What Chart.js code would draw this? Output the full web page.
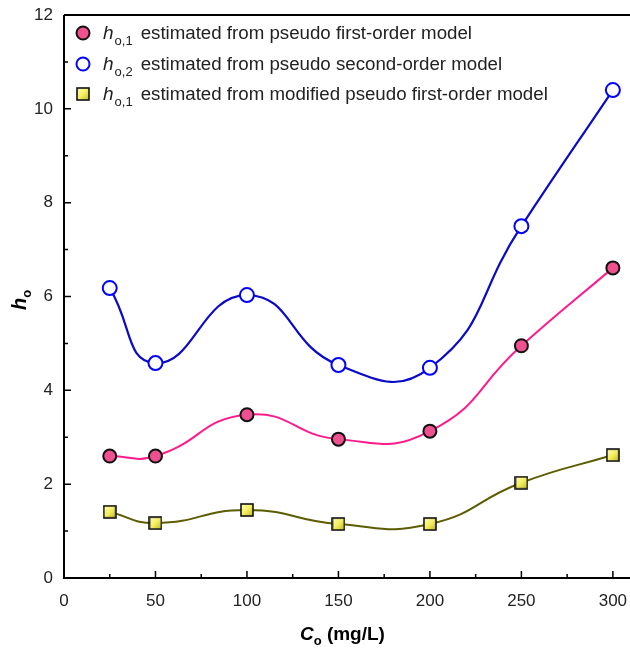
<!DOCTYPE html>
<html>
<head>
<meta charset="utf-8">
<script src="https://cdn.jsdelivr.net/npm/chart.js@4.4.1/dist/chart.umd.min.js"></script>
<style>
  html, body { margin: 0; padding: 0; background: #fff; overflow: hidden; }
  #wrap { position: relative; width: 642px; height: 658px; }
</style>
</head>
<body>
<div id="wrap"><canvas id="c"></canvas></div>
<script>
// ---- data ----
const concentrations = [25, 50, 100, 150, 200, 250, 300];
const hFirstOrder = [2.60, 2.60, 3.48, 2.96, 3.13, 4.95, 6.61];
const hSecondOrder = [6.18, 4.58, 6.03, 4.54, 4.48, 7.50, 10.40];
const hModifiedFirst = [1.41, 1.17, 1.45, 1.15, 1.15, 2.03, 2.62];
const xTickValues = [0, 50, 100, 150, 200, 250, 300];
const yTickValues = [0, 2, 4, 6, 8, 10, 12];
const legendLabels = [
  { sub: 'o,1', text: 'estimated from pseudo first-order model' },
  { sub: 'o,2', text: 'estimated from pseudo second-order model' },
  { sub: 'o,1', text: 'estimated from modified pseudo first-order model' }
];

const pts = arr => concentrations.map((x, i) => ({ x: x, y: arr[i] }));

const FONT = '"Liberation Sans", Arial, sans-serif';

// yellow gradient square marker
function makeSquare() {
  const s = 14;
  const c = document.createElement('canvas');
  c.width = s; c.height = s;
  const g = c.getContext('2d');
  const grd = g.createLinearGradient(0, 0, s, s);
  grd.addColorStop(0, '#ffffd0');
  grd.addColorStop(0.5, '#f5f060');
  grd.addColorStop(1, '#b8b020');
  g.fillStyle = grd;
  g.fillRect(1, 1, s - 2, s - 2);
  g.strokeStyle = '#111';
  g.lineWidth = 1.6;
  g.strokeRect(1, 1, s - 2, s - 2);
  return c;
}
const squareImg = makeSquare();

const framePlugin = {
  id: 'framePlugin',
  afterDraw(chart) {
    const ctx = chart.ctx;
    const a = chart.chartArea;
    const xs = chart.scales.x, ys = chart.scales.y;
    ctx.save();
    ctx.strokeStyle = '#000';
    ctx.lineWidth = 2;
    ctx.beginPath();
    ctx.moveTo(a.left, a.top);
    ctx.lineTo(a.right, a.top);
    ctx.moveTo(a.left, a.top);
    ctx.lineTo(a.left, a.bottom);
    ctx.lineTo(a.right, a.bottom);
    ctx.lineTo(a.right, a.top);
    ctx.stroke();
    // ticks (inward)
    ctx.lineWidth = 1.5;
    ctx.beginPath();
    for (let v = 25; v <= 300; v += 25) {
      const px = xs.getPixelForValue(v);
      const len = (v % 50 === 0) ? 7 : 4;
      ctx.moveTo(px, a.bottom);
      ctx.lineTo(px, a.bottom - len);
    }
    for (let v = 1; v < 12; v += 1) {
      const py = ys.getPixelForValue(v);
      const len = (v % 2 === 0) ? 7 : 4;
      ctx.moveTo(a.left, py);
      ctx.lineTo(a.left + len, py);
    }
    ctx.stroke();

    // axis titles
    ctx.fillStyle = '#000';
    ctx.textBaseline = 'alphabetic';
    {
      const y = 640;
      ctx.font = 'bold italic 19px ' + FONT;
      const wC = ctx.measureText('C').width;
      ctx.font = 'bold 13px ' + FONT;
      const wo = ctx.measureText('o').width;
      ctx.font = 'bold 19px ' + FONT;
      const wr = ctx.measureText(' (mg/L)').width;
      let x = (a.left + xs.getPixelForValue(300)) / 2 + 4 - (wC + wo + wr) / 2;
      ctx.font = 'bold italic 19px ' + FONT;
      ctx.fillText('C', x, y); x += wC;
      ctx.font = 'bold 13px ' + FONT;
      ctx.fillText('o', x, y + 5); x += wo;
      ctx.font = 'bold 19px ' + FONT;
      ctx.fillText(' (mg/L)', x, y);
    }
    {
      ctx.save();
      ctx.translate(26, 300);
      ctx.rotate(-Math.PI / 2);
      ctx.font = 'bold italic 20px ' + FONT;
      const wh = ctx.measureText('h').width;
      ctx.font = 'bold 13px ' + FONT;
      const wo = ctx.measureText('o').width;
      let x = -(wh + wo) / 2;
      ctx.font = 'bold italic 20px ' + FONT;
      ctx.fillText('h', x, 0); x += wh;
      ctx.font = 'bold 13px ' + FONT;
      ctx.fillText('o', x, 5);
      ctx.restore();
    }

    // legend
    const rows = [33, 64, 94];
    const mx = 83;
    rows.forEach((ry, i) => {
      ctx.save();
      if (i === 0) {
        ctx.beginPath();
        ctx.arc(mx, ry, 6.5, 0, Math.PI * 2);
        ctx.fillStyle = '#f0508f';
        ctx.fill();
        ctx.lineWidth = 2;
        ctx.strokeStyle = '#111';
        ctx.stroke();
      } else if (i === 1) {
        ctx.beginPath();
        ctx.arc(mx, ry, 6.5, 0, Math.PI * 2);
        ctx.fillStyle = '#fff';
        ctx.fill();
        ctx.lineWidth = 2;
        ctx.strokeStyle = '#0000ff';
        ctx.stroke();
      } else {
        ctx.drawImage(squareImg, mx - 7, ry - 7);
      }
      ctx.restore();
      let x = 103;
      const base = ry + 6;
      ctx.fillStyle = '#222';
      ctx.font = 'italic 19px ' + FONT;
      ctx.fillText('h', x, base); x += ctx.measureText('h').width + 1;
      ctx.font = '13px ' + FONT;
      ctx.fillText(legendLabels[i].sub, x, base + 6); x += ctx.measureText(legendLabels[i].sub).width + 8;
      ctx.font = '18.7px ' + FONT;
      ctx.fillText(legendLabels[i].text, x, base);
    });
    ctx.restore();
  }
};

new Chart(document.getElementById('c'), {
  type: 'line',
  data: {
    datasets: [
      {
        label: 'h o,1 estimated from pseudo first-order model',
        data: pts(hFirstOrder),
        borderColor: '#ff1a8c',
        borderWidth: 2,
        backgroundColor: '#f0508f',
        pointBackgroundColor: '#f0508f',
        pointBorderColor: '#111',
        pointBorderWidth: 2,
        pointRadius: 6.5,
        tension: 0.5,
        fill: false
      },
      {
        label: 'h o,2 estimated from pseudo second-order model',
        data: pts(hSecondOrder),
        borderColor: '#0a0ac8',
        borderWidth: 2.2,
        pointBackgroundColor: '#fff',
        pointBorderColor: '#0000ff',
        pointBorderWidth: 2,
        pointRadius: 7,
        tension: 0.5,
        fill: false
      },
      {
        label: 'h o,1 estimated from modified pseudo first-order model',
        data: pts(hModifiedFirst),
        borderColor: '#5c5c00',
        borderWidth: 2,
        pointStyle: squareImg,
        pointRadius: 7,
        tension: 0.5,
        fill: false
      }
    ]
  },
  options: {
    responsive: true,
    maintainAspectRatio: false,
    animation: false,
    layout: { padding: { top: 15, right: 0, left: 0, bottom: 0 } },
    plugins: { legend: { display: false }, tooltip: { enabled: false } },
    scales: {
      x: {
        type: 'linear',
        min: 0,
        max: 311,
        afterBuildTicks: s => { s.ticks = xTickValues.map(v => ({ value: v })); },
        afterFit: s => { s.height = 80; s.paddingLeft = 0; s.paddingRight = 0; },
        grid: { display: false, drawTicks: false },
        border: { display: false },
        ticks: {
          color: '#222',
          font: { family: FONT, size: 17 },
          padding: 13,
          maxRotation: 0,
          autoSkip: false
        }
      },
      y: {
        type: 'linear',
        min: 0,
        max: 12,
        afterBuildTicks: s => { s.ticks = yTickValues.map(v => ({ value: v })); },
        afterFit: s => { s.width = 64; s.paddingTop = 0; s.paddingBottom = 0; },
        grid: { display: false, drawTicks: false },
        border: { display: false },
        ticks: {
          color: '#222',
          font: { family: FONT, size: 17 },
          padding: 11
        }
      }
    }
  },
  plugins: [framePlugin]
});
</script>
</body>
</html>
